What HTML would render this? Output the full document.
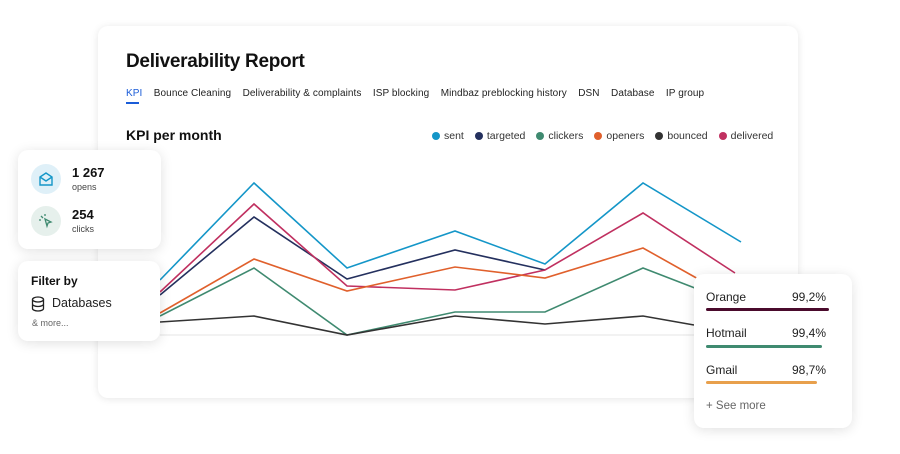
<!DOCTYPE html>
<html><head><style>
body{margin:0;width:900px;height:454px;background:#fff;font-family:"Liberation Sans",sans-serif;position:relative;overflow:hidden}
.card{position:absolute;background:#fff;border-radius:10px;box-shadow:0 2px 12px rgba(0,0,0,.12)}
.t{position:absolute;white-space:nowrap}
.lg span.d{display:inline-block;width:8px;height:8px;border-radius:50%;margin-right:4px;margin-left:11px;vertical-align:-0.5px}
</style></head><body>
<div class="card" style="left:98px;top:26px;width:700px;height:372px;box-shadow:0 1px 8px rgba(0,0,0,.1)"></div>
<div class="t" style="left:126px;top:51px;font-size:19px;font-weight:bold;color:#111;letter-spacing:-0.3px">Deliverability Report</div>
<div class="t" style="left:126px;top:88px;font-size:10px;color:#222;letter-spacing:0.08px">
<span style="color:#1a5cd8">KPI</span>&nbsp;&nbsp;&nbsp; Bounce Cleaning&nbsp;&nbsp;&nbsp; Deliverability &amp; complaints&nbsp;&nbsp;&nbsp; ISP blocking&nbsp;&nbsp;&nbsp; Mindbaz preblocking history&nbsp;&nbsp;&nbsp; DSN&nbsp;&nbsp;&nbsp; Database&nbsp;&nbsp;&nbsp; IP group</div>
<div style="position:absolute;left:126px;top:102px;width:13px;height:2px;background:#1a5cd8"></div>
<div class="t" style="left:126px;top:127px;font-size:14px;font-weight:bold;color:#111">KPI per month</div>
<div class="t lg" style="left:421px;top:130px;font-size:10.5px;color:#333">
<span class="d" style="background:#1496c8"></span>sent<span class="d" style="background:#24305e"></span>targeted<span class="d" style="background:#3f8a70"></span>clickers<span class="d" style="background:#e0602c"></span>openers<span class="d" style="background:#333"></span>bounced<span class="d" style="background:#c03060"></span>delivered</div>
<svg style="position:absolute;left:0;top:0" width="900" height="454" fill="none" stroke-width="1.6">
<line x1="160" y1="335" x2="700" y2="335" stroke="#e4e4e4" stroke-width="1"/>
<polyline stroke="#1496c8" points="160,280 254,183 347,268 455,231 545,264 643,183 741,242"/>
<polyline stroke="#24305e" points="160,295 254,217 347,279 455,250 545,270"/>
<polyline stroke="#c03060" points="160,292 254,204 347,286 455,290 545,270 643,213 735,273"/>
<polyline stroke="#e0602c" points="160,313 254,259 347,291 455,267 545,278 643,248 700,280"/>
<polyline stroke="#3f8a70" points="160,316 254,268 347,335 455,312 545,312 643,268 700,290"/>
<polyline stroke="#333" points="160,322 254,316 347,335 455,316 545,324 643,316 694,325"/>
</svg>
<div class="card" style="left:18px;top:150px;width:143px;height:99px"></div>
<div style="position:absolute;left:31px;top:164px;width:30px;height:30px;border-radius:50%;background:#dff0f8"></div>
<svg style="position:absolute;left:38px;top:171px" width="16" height="16" fill="none" stroke="#1496c8" stroke-width="1.4"><path d="M2 6 L8 2 L14 6 V14 H2 Z M2 6 L8 10 L14 6"/></svg>
<div class="t" style="left:72px;top:165px;font-size:13px;font-weight:bold;color:#111">1 267</div>
<div class="t" style="left:72px;top:182px;font-size:9px;color:#444">opens</div>
<div style="position:absolute;left:31px;top:206px;width:30px;height:30px;border-radius:50%;background:#e6f0ec"></div>
<svg style="position:absolute;left:38px;top:213px" width="16" height="16" fill="none" stroke="#3f8a70" stroke-width="1.3"><path d="M7 6 L13 9 L10 10 L9 13 Z M3 3 L5 5 M7 1 V3 M1 7 H3"/></svg>
<div class="t" style="left:72px;top:207px;font-size:13px;font-weight:bold;color:#111">254</div>
<div class="t" style="left:72px;top:224px;font-size:9px;color:#444">clicks</div>
<div class="card" style="left:18px;top:261px;width:142px;height:80px"></div>
<div class="t" style="left:31px;top:274px;font-size:12px;font-weight:bold;color:#111">Filter by</div>
<svg style="position:absolute;left:31px;top:296px" width="14" height="16" fill="none" stroke="#222" stroke-width="1.3"><ellipse cx="7" cy="3.5" rx="5.5" ry="2.5"/><path d="M1.5 3.5 V12.5 A5.5 2.5 0 0 0 12.5 12.5 V3.5 M1.5 8 A5.5 2.5 0 0 0 12.5 8"/></svg>
<div class="t" style="left:52px;top:296px;font-size:12.5px;color:#222">Databases</div>
<div class="t" style="left:32px;top:318px;font-size:9px;color:#666">&amp; more...</div>
<div class="card" style="left:694px;top:274px;width:158px;height:154px"></div>
<div class="t" style="left:706px;top:290px;font-size:12px;color:#222">Orange</div>
<div class="t" style="left:792px;top:290px;font-size:12px;color:#222">99,2%</div>
<div style="position:absolute;left:706px;top:308px;width:123px;height:3px;border-radius:2px;background:#4a0a2c"></div>
<div class="t" style="left:706px;top:326px;font-size:12px;color:#222">Hotmail</div>
<div class="t" style="left:792px;top:326px;font-size:12px;color:#222">99,4%</div>
<div style="position:absolute;left:706px;top:345px;width:116px;height:3px;border-radius:2px;background:#3f8a70"></div>
<div class="t" style="left:706px;top:363px;font-size:12px;color:#222">Gmail</div>
<div class="t" style="left:792px;top:363px;font-size:12px;color:#222">98,7%</div>
<div style="position:absolute;left:706px;top:381px;width:111px;height:3px;border-radius:2px;background:#e8a04c"></div>
<div class="t" style="left:706px;top:400px;font-size:11.5px;color:#666">+ See more</div>
</body></html>
